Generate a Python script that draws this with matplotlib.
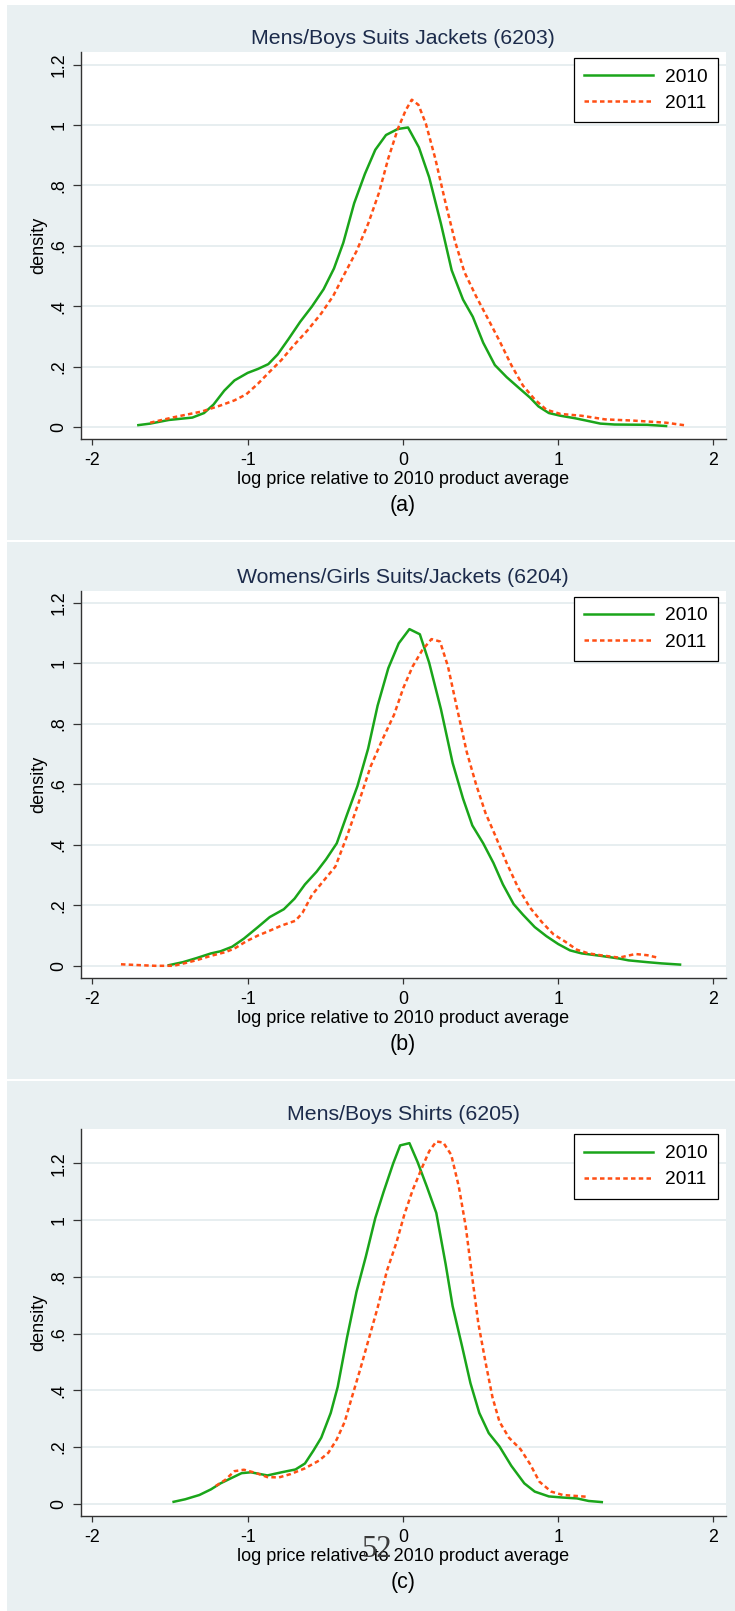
import matplotlib
matplotlib.use("Agg")
import matplotlib.pyplot as plt
from matplotlib.patches import Rectangle

# Kernel density of log price relative to the 2010 product average, by HS code

W_PX, H_PX = 735, 1611

titles = [
    "Mens/Boys Suits Jackets (6203)",
    "Womens/Girls Suits/Jackets (6204)",
    "Mens/Boys Shirts (6205)",
]
captions = ["(a)", "(b)", "(c)"]
years = ["2010", "2011"]

xticks = [-2, -1, 0, 1, 2]
xtick_labels = ["-2", "-1", "0", "1", "2"]
yticks = [0, 0.2, 0.4, 0.6, 0.8, 1.0, 1.2]
ytick_labels = ["0", ".2", ".4", ".6", ".8", "1", "1.2"]

# (a) 6203
x_2010_a = [-1.704, -1.628, -1.508, -1.356, -1.281, -1.22, -1.151, -1.085, -1.0, -0.934,
            -0.867, -0.807, -0.737, -0.662, -0.586, -0.511, -0.444, -0.384, -0.314, -0.245,
            -0.178, -0.109, -0.033, 0.033, 0.103, 0.169, 0.245, 0.314, 0.387, 0.45,
            0.517, 0.592, 0.668, 0.743, 0.819, 0.873, 0.94, 1.015, 1.106, 1.181,
            1.272, 1.363, 1.574, 1.695]
y_2010_a = [0.006, 0.011, 0.023, 0.031, 0.046, 0.074, 0.12, 0.154, 0.179, 0.192,
            0.208, 0.24, 0.291, 0.348, 0.399, 0.456, 0.525, 0.61, 0.741, 0.838,
            0.918, 0.967, 0.987, 0.992, 0.926, 0.827, 0.673, 0.519, 0.422, 0.365,
            0.279, 0.205, 0.165, 0.131, 0.097, 0.068, 0.046, 0.037, 0.029, 0.021,
            0.011, 0.008, 0.007, 0.003]
x_2011_a = [-1.628, -1.477, -1.296, -1.175, -1.085, -1.009, -0.934, -0.858, -0.782, -0.707,
            -0.616, -0.526, -0.45, -0.375, -0.299, -0.224, -0.154, -0.094, -0.033, 0.018,
            0.057, 0.1, 0.148, 0.208, 0.275, 0.335, 0.396, 0.471, 0.547, 0.622,
            0.698, 0.773, 0.849, 0.924, 1.015, 1.151, 1.302, 1.483, 1.695, 1.822]
y_2011_a = [0.014, 0.032, 0.051, 0.071, 0.088, 0.108, 0.143, 0.183, 0.222, 0.268,
            0.319, 0.376, 0.433, 0.508, 0.582, 0.673, 0.776, 0.89, 0.987, 1.049,
            1.084, 1.067, 1.004, 0.89, 0.741, 0.616, 0.513, 0.433, 0.359, 0.285,
            0.205, 0.137, 0.091, 0.057, 0.043, 0.037, 0.025, 0.021, 0.014, 0.005]

# (b) 6204
x_2010_b = [-1.508, -1.417, -1.326, -1.236, -1.175, -1.1, -1.024, -0.934, -0.858, -0.767,
            -0.698, -0.631, -0.556, -0.495, -0.426, -0.36, -0.293, -0.224, -0.163, -0.094,
            -0.027, 0.042, 0.109, 0.169, 0.245, 0.32, 0.387, 0.447, 0.517, 0.583,
            0.644, 0.713, 0.773, 0.849, 0.924, 1.0, 1.076, 1.151, 1.272, 1.393,
            1.453, 1.574, 1.665, 1.785]
y_2010_b = [0.002, 0.012, 0.026, 0.041, 0.048, 0.063, 0.09, 0.128, 0.161, 0.187,
            0.222, 0.269, 0.311, 0.352, 0.405, 0.5, 0.594, 0.718, 0.86, 0.984,
            1.066, 1.113, 1.096, 1.002, 0.848, 0.671, 0.553, 0.464, 0.405, 0.34,
            0.269, 0.204, 0.169, 0.128, 0.098, 0.072, 0.051, 0.041, 0.033, 0.024,
            0.018, 0.012, 0.008, 0.004]
x_2011_b = [-1.816, -1.689, -1.598, -1.477, -1.402, -1.326, -1.236, -1.145, -1.085, -1.009,
            -0.934, -0.858, -0.782, -0.692, -0.647, -0.586, -0.511, -0.435, -0.36, -0.284,
            -0.208, -0.133, -0.057, 0.003, 0.063, 0.124, 0.184, 0.239, 0.29, 0.35,
            0.411, 0.471, 0.532, 0.592, 0.668, 0.743, 0.819, 0.894, 0.97, 1.045,
            1.121, 1.196, 1.272, 1.393, 1.498, 1.574, 1.649]
y_2011_b = [0.005, 0.002, 0.0, 0.0, 0.009, 0.019, 0.033, 0.045, 0.057, 0.081,
            0.1, 0.116, 0.133, 0.149, 0.175, 0.234, 0.281, 0.328, 0.429, 0.541,
            0.659, 0.747, 0.83, 0.919, 0.99, 1.043, 1.08, 1.072, 0.99, 0.848,
            0.707, 0.6, 0.505, 0.434, 0.34, 0.257, 0.192, 0.145, 0.104, 0.08,
            0.053, 0.041, 0.035, 0.027, 0.039, 0.035, 0.026]

# (c) 6205
x_2010_c = [-1.477, -1.402, -1.311, -1.236, -1.175, -1.115, -1.039, -0.979, -0.873, -0.782,
            -0.692, -0.631, -0.577, -0.526, -0.465, -0.42, -0.36, -0.299, -0.239, -0.178,
            -0.124, -0.063, -0.018, 0.042, 0.094, 0.154, 0.215, 0.275, 0.32, 0.381,
            0.435, 0.492, 0.553, 0.622, 0.698, 0.782, 0.849, 0.94, 1.03, 1.121,
            1.196, 1.281]
y_2010_c = [0.007, 0.016, 0.031, 0.051, 0.072, 0.088, 0.108, 0.111, 0.1, 0.111,
            0.121, 0.142, 0.187, 0.233, 0.32, 0.412, 0.586, 0.747, 0.871, 1.007,
            1.1, 1.199, 1.263, 1.271, 1.205, 1.118, 1.025, 0.845, 0.697, 0.555,
            0.425, 0.32, 0.249, 0.202, 0.134, 0.072, 0.043, 0.026, 0.022, 0.019,
            0.01, 0.006]
x_2011_c = [-1.205, -1.145, -1.085, -1.024, -0.949, -0.873, -0.798, -0.722, -0.631, -0.541,
            -0.48, -0.426, -0.375, -0.329, -0.275, -0.224, -0.163, -0.103, -0.042, 0.009,
            0.063, 0.124, 0.169, 0.215, 0.26, 0.311, 0.36, 0.405, 0.447, 0.486,
            0.532, 0.577, 0.622, 0.683, 0.758, 0.819, 0.879, 0.955, 1.03, 1.106,
            1.181]
y_2011_c = [0.063, 0.084, 0.115, 0.12, 0.109, 0.094, 0.093, 0.105, 0.125, 0.152,
            0.18, 0.227, 0.289, 0.375, 0.474, 0.573, 0.691, 0.821, 0.92, 1.019,
            1.106, 1.186, 1.242, 1.277, 1.273, 1.23, 1.118, 0.976, 0.796, 0.635,
            0.499, 0.375, 0.289, 0.233, 0.192, 0.14, 0.078, 0.043, 0.031, 0.028,
            0.025]

series = [
    ((x_2010_a, y_2010_a), (x_2011_a, y_2011_a)),
    ((x_2010_b, y_2010_b), (x_2011_b, y_2011_b)),
    ((x_2010_c, y_2010_c), (x_2011_c, y_2011_c)),
]

# layout in pixels from the top-left corner
ax_left, ax_right = 80.6, 725.7
ax_rows = [(52.0, 439.0), (590.7, 977.9), (1128.5, 1516.0)]
panel_rows = [(5, 540), (542, 1079), (1081, 1611)]
ylims = [(-0.040, 1.242), (-0.040, 1.240), (-0.043, 1.3226)]
xlim = (-2.076, 2.079)

BG = "#e9f0f2"
GRID = "#e3ebee"
NAVY = "#1c2b4b"
GREEN = "#1aa51a"
ORANGE = "#ff4f14"

plt.rcParams["font.family"] = ["Liberation Sans", "DejaVu Sans"]
plt.rcParams["axes.unicode_minus"] = False


def fx(px):
    return px / W_PX


def fy(py):
    return 1 - py / H_PX


fig = plt.figure(figsize=(W_PX / 100, H_PX / 100), dpi=100)
fig.patch.set_facecolor("white")

xc = (ax_left + ax_right) / 2

for i in range(3):
    top, bottom = ax_rows[i]
    p_top, p_bottom = panel_rows[i]
    fig.patches.append(Rectangle((fx(7), fy(p_bottom)), fx(W_PX - 7), (p_bottom - p_top) / H_PX,
                                 transform=fig.transFigure, facecolor=BG, edgecolor="none", zorder=-10))

    ax = fig.add_axes([fx(ax_left), fy(bottom), (ax_right - ax_left) / W_PX, (bottom - top) / H_PX])
    ax.set_facecolor("white")
    (x0, y0), (x1, y1) = series[i]
    ax.plot(x0, y0, color=GREEN, lw=1.8, label=years[0], zorder=3)
    ax.plot(x1, y1, color=ORANGE, lw=1.8, dashes=(1.8, 1.3), label=years[1], zorder=3)

    ax.set_xlim(*xlim)
    ax.set_ylim(*ylims[i])
    ax.set_xticks(xticks)
    ax.set_xticklabels(xtick_labels)
    ax.set_yticks(yticks)
    ax.set_yticklabels(ytick_labels, rotation=90, va="center")
    ax.yaxis.grid(True, color=GRID, lw=1.2)
    ax.set_axisbelow(True)

    for side in ("top", "right"):
        ax.spines[side].set_visible(False)
    for side in ("left", "bottom"):
        ax.spines[side].set_color("#333333")
        ax.spines[side].set_linewidth(1.0)
    ax.tick_params(axis="x", length=4.5, width=0.9, color="#333333", labelsize=12.8, pad=5)
    ax.tick_params(axis="y", length=5.5, width=0.9, color="#333333", labelsize=12.8, pad=4)

    leg = ax.legend(loc="upper right", bbox_to_anchor=(0.988, 0.985), borderaxespad=0,
                    fontsize=13.8, handlelength=3.6, handletextpad=0.6, labelspacing=0.45,
                    borderpad=0.55, fancybox=False, framealpha=1)
    leg.get_frame().set_edgecolor("black")
    leg.get_frame().set_linewidth(0.9)

    fig.text(fx(xc), fy(top - 8), titles[i], ha="center", va="baseline", fontsize=15.3, color=NAVY)
    fig.text(fx(xc), fy(bottom + 45), "log price relative to 2010 product average",
             ha="center", va="baseline", fontsize=13, color="black")
    fig.text(fx(xc), fy(bottom + 72), captions[i], ha="center", va="baseline", fontsize=15.5, color="black")
    fig.text(fx(47), fy((top + bottom) / 2), "density", rotation=90, ha="right", va="center",
             fontsize=13, color="black")

# page number from the surrounding document
fig.text(fx(376.7), fy(1556.7), "52", family=["Liberation Serif", "DejaVu Serif"], fontsize=22,
         color="#3a3a3a", ha="center", va="baseline", zorder=10)

fig.savefig("out.png", dpi=100)
